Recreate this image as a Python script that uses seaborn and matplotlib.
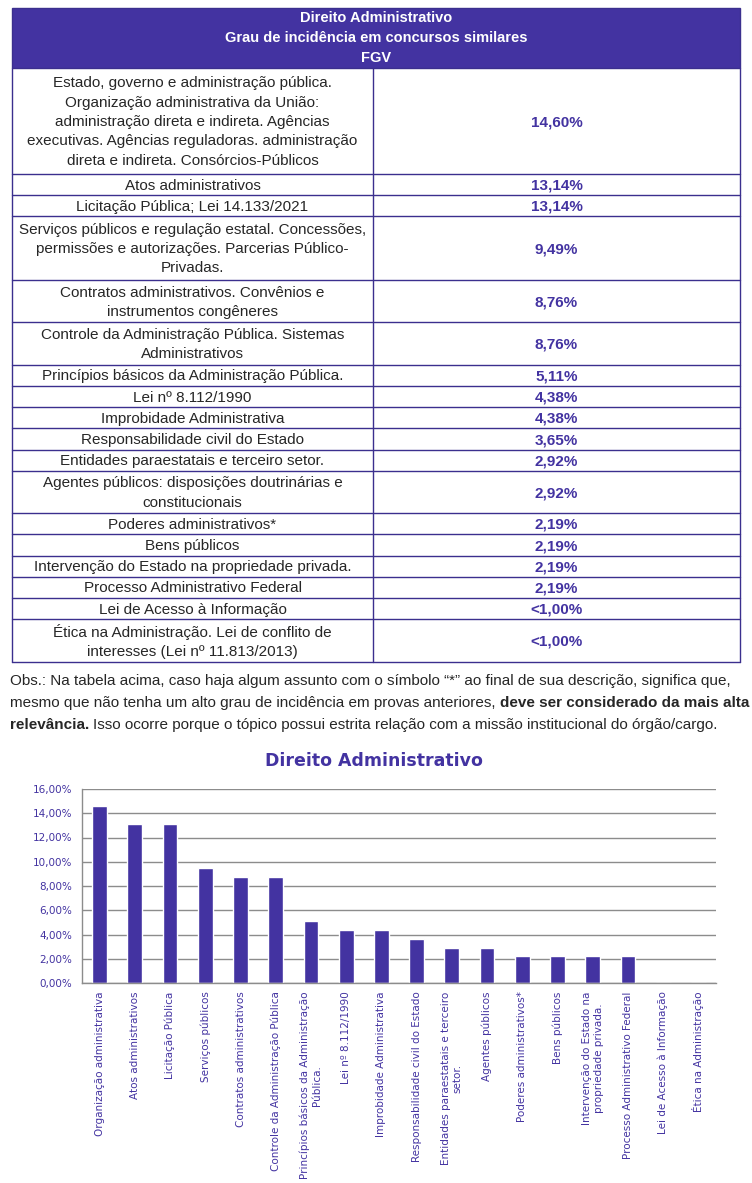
import matplotlib
matplotlib.use("Agg")
import matplotlib.pyplot as plt
from matplotlib.patches import Rectangle
from matplotlib.ticker import FuncFormatter
import numpy as np
import pandas as pd
import seaborn as sns

PURPLE = "#4333a1"
BORDER = "#3b2f8e"
GRID = "#8c8c8c"

# ── data ──────────────────────────────────────────────────────────────────────
HEADER = ["Direito Administrativo",
          "Grau de incidência em concursos similares",
          "FGV"]

TOPICS = [
    "Estado, governo e administração pública.\nOrganização administrativa da União:\n"
    "administração direta e indireta. Agências\nexecutivas. Agências reguladoras. administração\n"
    "direta e indireta. Consórcios-Públicos",
    "Atos administrativos",
    "Licitação Pública; Lei 14.133/2021",
    "Serviços públicos e regulação estatal. Concessões,\npermissões e autorizações. Parcerias Público-\nPrivadas.",
    "Contratos administrativos. Convênios e\ninstrumentos congêneres",
    "Controle da Administração Pública. Sistemas\nAdministrativos",
    "Princípios básicos da Administração Pública.",
    "Lei nº 8.112/1990",
    "Improbidade Administrativa",
    "Responsabilidade civil do Estado",
    "Entidades paraestatais e terceiro setor.",
    "Agentes públicos: disposições doutrinárias e\nconstitucionais",
    "Poderes administrativos*",
    "Bens públicos",
    "Intervenção do Estado na propriedade privada.",
    "Processo Administrativo Federal",
    "Lei de Acesso à Informação",
    "Ética na Administração. Lei de conflito de\ninteresses (Lei nº 11.813/2013)",
]
PCT_LABELS = ["14,60%", "13,14%", "13,14%", "9,49%", "8,76%", "8,76%", "5,11%",
              "4,38%", "4,38%", "3,65%", "2,92%", "2,92%", "2,19%", "2,19%",
              "2,19%", "2,19%", "<1,00%", "<1,00%"]

CHART_LABELS = [
    "Organização administrativa", "Atos administrativos", "Licitação Pública",
    "Serviços públicos", "Contratos administrativos",
    "Controle da Administração Pública",
    "Princípios básicos da Administração\nPública.", "Lei nº 8.112/1990",
    "Improbidade Administrativa", "Responsabilidade civil do Estado",
    "Entidades paraestatais e terceiro\nsetor.", "Agentes públicos",
    "Poderes administrativos*", "Bens públicos",
    "Intervenção do Estado na\npropriedade privada.",
    "Processo Administrativo Federal", "Lei de Acesso à Informação",
    "Ética na Administração",
]
CHART_VALUES = [14.60, 13.14, 13.14, 9.49, 8.76, 8.76, 5.11, 4.38, 4.38, 3.65,
                2.92, 2.92, 2.19, 2.19, 2.19, 2.19, 0.0, 0.0]

OBS_LINES = [
    [("Obs.: Na tabela acima, caso haja algum assunto com o símbolo “*” ao final de sua descrição, significa que,", False)],
    [("mesmo que não tenha um alto grau de incidência em provas anteriores,", False),
     ("deve ser considerado da mais alta", True)],
    [("relevância.", True),
     ("Isso ocorre porque o tópico possui estrita relação com a missão institucional do órgão/cargo.", False)],
]

sns.set_style("white")
TABLE_FONT = ["Liberation Sans Narrow", "Liberation Sans", "DejaVu Sans"]
plt.rcParams["font.family"] = ["DejaVu Sans"]

W, H = 752, 1183
fig = plt.figure(figsize=(W / 100, H / 100), dpi=100)

# ── table (pixel coordinates) ─────────────────────────────────────────────────
tab = fig.add_axes([0, 0, 1, 1])
tab.set_xlim(0, W)
tab.set_ylim(H, 0)
tab.axis("off")

x0, x1, xmid = 12, 740, 373
tab.add_patch(Rectangle((x0, 8), x1 - x0, 60, facecolor=PURPLE, edgecolor=BORDER, lw=1))
for i, line in enumerate(HEADER):
    tab.text((x0 + x1) / 2, 18 + i * 20, line, ha="center", va="center",
             color="white", fontweight="bold", fontsize=10.5, family=TABLE_FONT)

line_h = 21.2
y = 68
for topic, pct in zip(TOPICS, PCT_LABELS):
    h = (topic.count("\n") + 1) * line_h
    tab.text((x0 + xmid) / 2, y + h / 2 + 1, topic, ha="center", va="center",
             ma="center", fontsize=11, linespacing=1.48, family=TABLE_FONT)
    tab.text((xmid + x1) / 2, y + h / 2 + 1, pct, ha="center", va="center",
             fontsize=11, fontweight="bold", color=PURPLE, family=TABLE_FONT)
    y += h
    tab.plot([x0, x1], [y, y], color=BORDER, lw=1)
for xv in (x0, xmid, x1):
    tab.plot([xv, xv], [68, y], color=BORDER, lw=1)

# obs paragraph with bold runs
renderer = fig.canvas.get_renderer()
for i, parts in enumerate(OBS_LINES):
    xx = 10
    for txt, bold in parts:
        t = tab.text(xx, 681 + i * 22, txt, ha="left", va="center", fontsize=11,
                     fontweight="bold" if bold else "normal", family=TABLE_FONT)
        xx += t.get_window_extent(renderer=renderer).width + 4

# ── bar chart ─────────────────────────────────────────────────────────────────
ax = fig.add_axes([82 / W, 1 - 983 / H, (716 - 82) / W, (983 - 789) / H])
df = pd.DataFrame({"assunto": CHART_LABELS, "pct": CHART_VALUES})
sns.barplot(data=df, x="assunto", y="pct", color=PURPLE, saturation=1,
            width=0.42, ax=ax)
ax.set_xlim(-0.5, len(CHART_LABELS) - 0.5)
ax.set_ylim(0, 16)
ax.set_yticks(np.arange(0, 17, 2))
ax.yaxis.set_major_formatter(FuncFormatter(lambda v, _: f"{v:.2f}".replace(".", ",") + "%"))
ax.set_xlabel("")
ax.set_ylabel("")
ax.grid(axis="y", color=GRID, lw=1)
ax.set_axisbelow(True)
for s in ("top", "right"):
    ax.spines[s].set_visible(False)
for s in ("left", "bottom"):
    ax.spines[s].set_color(GRID)
    ax.spines[s].set_linewidth(1)

ax.set_xticks(range(len(CHART_LABELS)))
ax.set_xticklabels(CHART_LABELS, rotation=90, fontsize=7.5, color=PURPLE, ma="center")
ax.set_xticks(np.arange(-0.5, len(CHART_LABELS), 1), minor=True)
ax.tick_params(axis="x", which="major", length=0, pad=6)
ax.tick_params(axis="x", which="minor", length=4, color=GRID, direction="out")
ax.tick_params(axis="y", length=4, color=GRID, direction="out", labelsize=7.5,
               labelcolor=PURPLE, pad=3)

fig.text(374 / W, 1 - 761 / H, "Direito Administrativo", ha="center", va="center",
         fontsize=12.5, fontweight="bold", color=PURPLE)

fig.savefig("out.png", dpi=100)
